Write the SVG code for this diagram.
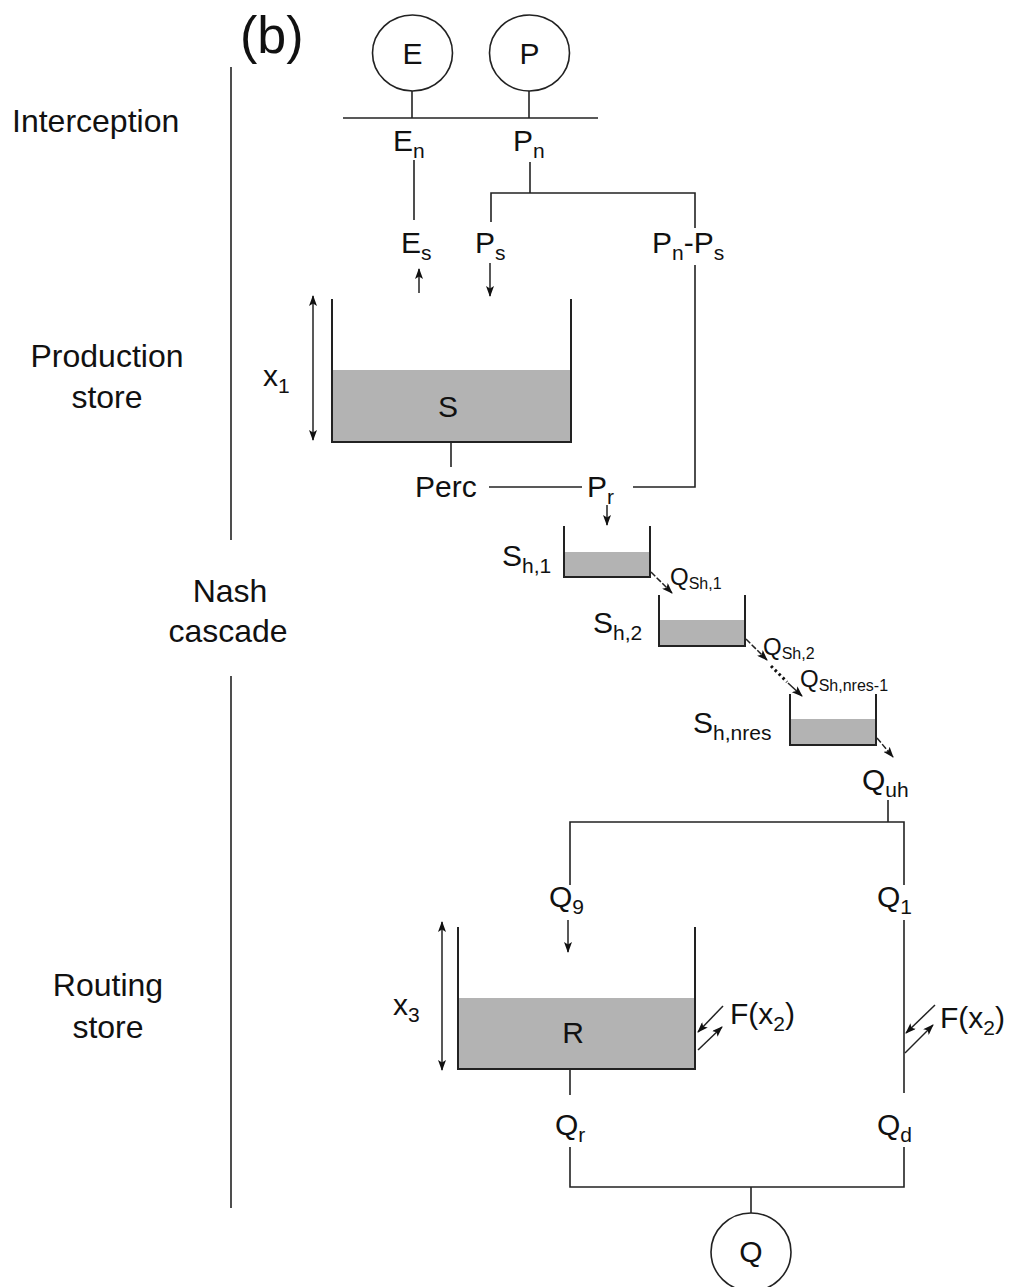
<svg xmlns="http://www.w3.org/2000/svg" width="1014" height="1287" viewBox="0 0 1014 1287">
<style>
text{font-family:"Liberation Sans",Arial,sans-serif;fill:#111;}
.lbl{font-size:30px;}
.sec{font-size:32px;}
.sub{font-size:21px;}
.qs{font-size:24px;}
.qsub{font-size:16px;}
.ln{stroke:#222;stroke-width:1.6;fill:none;}
.wall{stroke:#222;stroke-width:2;fill:none;}
.water{fill:#b3b3b3;stroke:none;}
.circ{fill:#fff;stroke:#222;stroke-width:1.6;}
.arr{stroke:#222;stroke-width:1.5;fill:none;marker-end:url(#ah);}
.dbl{stroke:#222;stroke-width:1.5;fill:none;marker-start:url(#ahs);marker-end:url(#ah);}
</style>
<defs>
<marker id="ah" markerWidth="11" markerHeight="8" refX="10" refY="4" orient="auto" markerUnits="userSpaceOnUse"><path d="M0,0 L11,4 L0,8 L2.5,4 Z" fill="#111"/></marker>
<marker id="ahs" markerWidth="11" markerHeight="8" refX="1" refY="4" orient="auto" markerUnits="userSpaceOnUse"><path d="M11,0 L0,4 L11,8 L8.5,4 Z" fill="#111"/></marker>
</defs>
<rect width="1014" height="1287" fill="#fff"/>

<g id="sections">
<text class="sec" x="12" y="132">Interception</text>
<text class="sec" x="107" y="367" text-anchor="middle">Production</text>
<text class="sec" x="107" y="408" text-anchor="middle">store</text>
<text class="sec" x="230" y="602" text-anchor="middle">Nash</text>
<text class="sec" x="228" y="642" text-anchor="middle">cascade</text>
<text class="sec" x="108" y="996" text-anchor="middle">Routing</text>
<text class="sec" x="108" y="1038" text-anchor="middle">store</text>
<line class="ln" x1="231" y1="67" x2="231" y2="540"/>
<line class="ln" x1="231" y1="676" x2="231" y2="1208"/>
<text x="240" y="53" style="font-size:52px">(b)</text>
</g>

<g id="connectors">
<line class="ln" x1="412" y1="91" x2="412" y2="118"/>
<line class="ln" x1="529" y1="91" x2="529" y2="118"/>
<line class="ln" x1="343" y1="118" x2="598" y2="118"/>
<line class="ln" x1="414" y1="160" x2="414" y2="220"/>
<line class="ln" x1="530" y1="162" x2="530" y2="193"/>
<polyline class="ln" points="491,222 491,193 695,193 695,228"/>
<polyline class="ln" points="695,265 695,487 633,487"/>
<line class="ln" x1="489" y1="487" x2="582" y2="487"/>
<line class="ln" x1="451" y1="442" x2="451" y2="467"/>
<line class="arr" x1="419" y1="293" x2="419" y2="269"/>
<line class="arr" x1="490" y1="263" x2="490" y2="296"/>
<line class="arr" x1="607" y1="505" x2="607" y2="525"/>
<line class="dbl" x1="313" y1="296" x2="313" y2="440"/>
<line class="arr" x1="651" y1="572" x2="672" y2="593" stroke-dasharray="6,2"/>
<line class="arr" x1="746" y1="639" x2="767" y2="660" stroke-dasharray="6,2"/>
<line x1="771" y1="666" x2="787" y2="682" stroke="#111" stroke-width="3" stroke-dasharray="2.5,3"/>
<line class="arr" x1="788" y1="683" x2="802" y2="696"/>
<line class="arr" x1="877" y1="738" x2="893" y2="757" stroke-dasharray="6,2"/>
<line class="ln" x1="888" y1="800" x2="888" y2="822"/>
<polyline class="ln" points="570,885 570,822 904,822 904,885"/>
<line class="arr" x1="568" y1="920" x2="568" y2="952"/>
<line class="ln" x1="904" y1="920" x2="904" y2="1093"/>
<line class="dbl" x1="442" y1="922" x2="442" y2="1070"/>
<line class="ln" x1="570" y1="1069" x2="570" y2="1095"/>
<polyline class="ln" points="570,1147 570,1187 904,1187 904,1147"/>
<line class="ln" x1="751" y1="1187" x2="751" y2="1213"/>
<line class="arr" x1="723" y1="1006" x2="698" y2="1032"/>
<line class="arr" x1="698" y1="1050" x2="722" y2="1027"/>
<line class="arr" x1="935" y1="1005" x2="906" y2="1033"/>
<line class="arr" x1="905" y1="1053" x2="933" y2="1025"/>
</g>

<g id="node-E">
<ellipse class="circ" cx="412.5" cy="53" rx="40" ry="38"/>
<text class="lbl" x="412.5" y="64" text-anchor="middle">E</text>
</g>
<g id="node-P">
<ellipse class="circ" cx="529.5" cy="53" rx="40" ry="38"/>
<text class="lbl" x="529.5" y="64" text-anchor="middle">P</text>
</g>

<g id="labels">
<text class="lbl" x="393" y="151">E<tspan class="sub" dy="7">n</tspan></text>
<text class="lbl" x="513" y="151">P<tspan class="sub" dy="7">n</tspan></text>
<text class="lbl" x="401" y="253">E<tspan class="sub" dy="7">s</tspan></text>
<text class="lbl" x="475" y="253">P<tspan class="sub" dy="7">s</tspan></text>
<text class="lbl" x="652" y="253">P<tspan class="sub" dy="7">n</tspan><tspan dy="-7">-P</tspan><tspan class="sub" dy="7">s</tspan></text>
<text class="lbl" x="415" y="497">Perc</text>
<text class="lbl" x="587" y="497">P<tspan class="sub" dy="7">r</tspan></text>
<text class="lbl" x="263" y="386">x<tspan class="sub" dy="7">1</tspan></text>
<text class="lbl" x="862" y="790">Q<tspan class="sub" dy="7">uh</tspan></text>
<text class="lbl" x="549" y="907">Q<tspan class="sub" dy="7">9</tspan></text>
<text class="lbl" x="877" y="907">Q<tspan class="sub" dy="7">1</tspan></text>
<text class="lbl" x="393" y="1015">x<tspan class="sub" dy="7">3</tspan></text>
<text class="lbl" x="555" y="1135">Q<tspan class="sub" dy="7">r</tspan></text>
<text class="lbl" x="877" y="1135">Q<tspan class="sub" dy="7">d</tspan></text>
<text class="lbl" x="730" y="1024">F(x<tspan class="sub" dy="7">2</tspan><tspan dy="-7">)</tspan></text>
<text class="lbl" x="940" y="1028">F(x<tspan class="sub" dy="7">2</tspan><tspan dy="-7">)</tspan></text>
<text class="qs" x="670" y="585">Q<tspan class="qsub" dy="4">Sh,1</tspan></text>
<text class="qs" x="763" y="655">Q<tspan class="qsub" dy="4">Sh,2</tspan></text>
<text class="qs" x="800" y="687">Q<tspan class="qsub" dy="4">Sh,nres-1</tspan></text>
</g>

<g id="node-S">
<rect class="water" x="332" y="370" width="239" height="72"/>
<path class="wall" d="M332 299 V442 H571 V299"/>
<text class="lbl" x="448" y="417" text-anchor="middle">S</text>
</g>

<g id="node-Sh1">
<rect class="water" x="564" y="552" width="86" height="25"/>
<path class="wall" d="M564 526 V577 H650 V526"/>
<text class="lbl" x="502" y="566">S<tspan class="sub" dy="7">h,1</tspan></text>
</g>
<g id="node-Sh2">
<rect class="water" x="659" y="620" width="86" height="26"/>
<path class="wall" d="M659 595 V646 H745 V595"/>
<text class="lbl" x="593" y="633">S<tspan class="sub" dy="7">h,2</tspan></text>
</g>
<g id="node-Shnres">
<rect class="water" x="790" y="719" width="86" height="26"/>
<path class="wall" d="M790 694 V745 H876 V694"/>
<text class="lbl" x="693" y="733">S<tspan class="sub" dy="7">h,nres</tspan></text>
</g>

<g id="node-R">
<rect class="water" x="458" y="998" width="237" height="71"/>
<path class="wall" d="M458 927 V1069 H695 V927"/>
<text class="lbl" x="573" y="1043" text-anchor="middle">R</text>
</g>

<g id="node-Q">
<ellipse class="circ" cx="751" cy="1252" rx="40" ry="39"/>
<text class="lbl" x="751" y="1262" text-anchor="middle">Q</text>
</g>
</svg>
